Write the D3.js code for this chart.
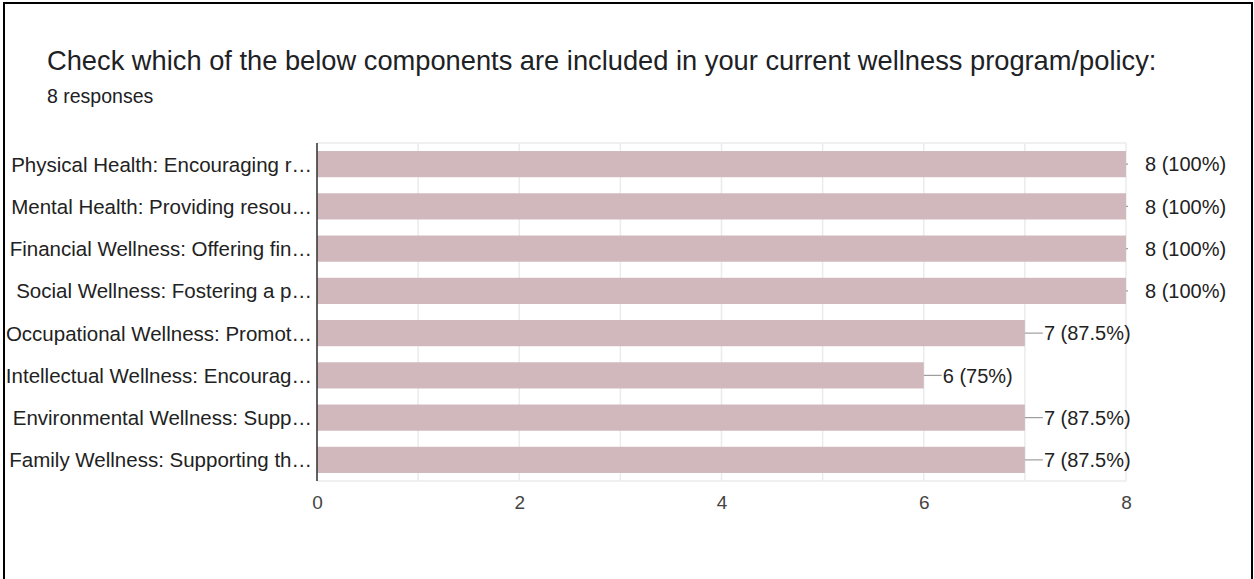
<!DOCTYPE html>
<html>
<head>
<meta charset="utf-8">
<script src="https://cdn.jsdelivr.net/npm/d3@7/dist/d3.min.js"></script>
<style>
  html, body { margin: 0; padding: 0; background: #fff; }
  svg { display: block; }
  text { font-family: "Liberation Sans", Arial, sans-serif; }
</style>
</head>
<body>
<svg id="chart" width="1254" height="579"></svg>
<script>
// Survey question and response count
const title = "Check which of the below components are included in your current wellness program/policy:";
const subtitle = "8 responses";

// Wellness components (labels truncated as displayed)
const categories = [
  "Physical Health: Encouraging r…",
  "Mental Health: Providing resou…",
  "Financial Wellness: Offering fin…",
  "Social Wellness: Fostering a p…",
  "Occupational Wellness: Promot…",
  "Intellectual Wellness: Encourag…",
  "Environmental Wellness: Supp…",
  "Family Wellness: Supporting th…"
];

// Number of respondents selecting each component
const counts = [8, 8, 8, 8, 7, 6, 7, 7];
const totalResponses = 8;

// Axis tick values
const tickValues = [0, 2, 4, 6, 8];

const svg = d3.select("#chart");

// Outer frame
svg.append("rect")
  .attr("x", 4).attr("y", 3)
  .attr("width", 1248).attr("height", 600)
  .attr("fill", "none")
  .attr("stroke", "#000")
  .attr("stroke-width", 2);

// Heading, sized to span the panel width
const titleText = svg.append("text")
  .attr("x", 47).attr("y", 70)
  .attr("fill", "#202124")
  .style("font-size", "22px")
  .text(title);
const tw = titleText.node().getComputedTextLength();
titleText.style("font-size", (22 * 1110 / tw).toFixed(2) + "px");

svg.append("text")
  .attr("x", 47).attr("y", 103)
  .attr("fill", "#202124")
  .style("font-size", "19.5px")
  .text(subtitle);

// Plot area
const plotL = 317, plotR = 1126, plotT = 143, plotB = 481;

const x = d3.scaleLinear().domain([0, 8]).range([plotL, plotR]);
const y = d3.scaleBand().domain(categories).range([plotT, plotB]).paddingInner(0.38).paddingOuter(0.19);

// Vertical gridlines at every unit
const g = svg.append("g");
g.selectAll("line.grid")
  .data(d3.range(0, 9))
  .join("line")
  .attr("class", "grid")
  .attr("x1", d => x(d)).attr("x2", d => x(d))
  .attr("y1", plotT).attr("y2", plotB)
  .attr("stroke", "#ebebeb")
  .attr("stroke-width", 1.5);

// Top and bottom frame lines of plot area
[plotT, plotB].forEach(yy => {
  g.append("line")
    .attr("x1", plotL).attr("x2", plotR)
    .attr("y1", yy).attr("y2", yy)
    .attr("stroke", "#ebebeb").attr("stroke-width", 1.5);
});

// Bars
g.selectAll("rect.bar")
  .data(counts)
  .join("rect")
  .attr("class", "bar")
  .attr("x", x(0))
  .attr("y", (d, i) => y(categories[i]))
  .attr("width", d => x(d) - x(0))
  .attr("height", y.bandwidth())
  .attr("fill", "#d1b8bc");

// Leader lines to value labels, clipped at the plot edge
svg.append("clipPath").attr("id", "plotClip")
  .append("rect").attr("x", plotL).attr("y", plotT)
  .attr("width", plotR - plotL + 2).attr("height", plotB - plotT);

g.append("g").attr("clip-path", "url(#plotClip)")
  .selectAll("line.leader")
  .data(counts)
  .join("line")
  .attr("class", "leader")
  .attr("x1", d => x(d)).attr("x2", d => x(d) + 18)
  .attr("y1", (d, i) => y(categories[i]) + y.bandwidth() / 2)
  .attr("y2", (d, i) => y(categories[i]) + y.bandwidth() / 2)
  .attr("stroke", "#9e9e9e").attr("stroke-width", 1.2);

// Value labels
g.selectAll("text.value")
  .data(counts)
  .join("text")
  .attr("class", "value")
  .attr("x", d => x(d) + 19)
  .attr("y", (d, i) => y(categories[i]) + y.bandwidth() / 2)
  .attr("dy", "0.36em")
  .attr("fill", "#222")
  .style("font-size", "20px")
  .text(d => `${d} (${+(d / totalResponses * 100).toFixed(1)}%)`);

// Category axis
const yAxis = svg.append("g")
  .attr("transform", `translate(${plotL},0)`)
  .call(d3.axisLeft(y).tickSize(0).tickPadding(5));
yAxis.select(".domain").attr("stroke", "#333").attr("stroke-width", 1.5)
  .attr("d", `M0,${plotT}V${plotB}`);
yAxis.selectAll("text")
  .attr("fill", "#222")
  .attr("dy", "0.36em")
  .style("font-size", "20.5px")
  .style("font-family", "'Liberation Sans', Arial, sans-serif");

// Value axis
const xAxis = svg.append("g")
  .attr("transform", `translate(0,${plotB})`)
  .call(d3.axisBottom(x).tickValues(tickValues).tickSize(0).tickPadding(15).tickFormat(d3.format("d")));
xAxis.select(".domain").remove();
xAxis.selectAll("text")
  .attr("fill", "#444")
  .style("font-size", "19px")
  .style("font-family", "'Liberation Sans', Arial, sans-serif");
</script>
</body>
</html>
